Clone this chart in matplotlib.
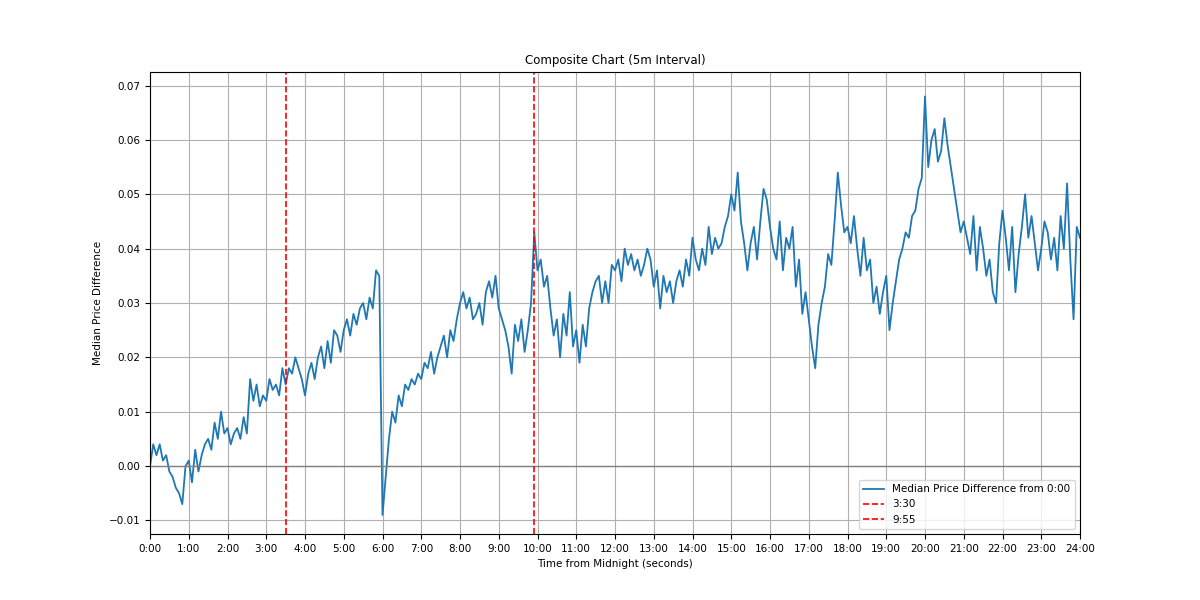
import matplotlib
matplotlib.use('Agg')
import matplotlib.pyplot as plt
import numpy as np

# median price difference (x 1e-3), 5 minute steps, one row per hour
h00 = [0, 4, 2, 4, 1, 2, -1, -2, -4, -5, -7, 0]
h01 = [1, -3, 3, -1, 2, 4, 5, 3, 8, 5, 10, 6]
h02 = [7, 4, 6, 7, 5, 9, 6, 16, 12, 15, 11, 13]
h03 = [12, 16, 14, 15, 13, 18, 15, 18, 17, 20, 18, 16]
h04 = [13, 17, 19, 16, 20, 22, 18, 23, 19, 25, 24, 21]
h05 = [25, 27, 24, 28, 26, 29, 30, 27, 31, 29, 36, 35]
h06 = [-9, -2, 5, 10, 8, 13, 11, 15, 14, 16, 15, 17]
h07 = [16, 19, 18, 21, 17, 20, 22, 24, 20, 25, 23, 27]
h08 = [30, 32, 29, 31, 27, 28, 30, 26, 32, 34, 31, 35]
h09 = [29, 27, 25, 22, 17, 26, 23, 27, 21, 25, 30, 43]
h10 = [36, 38, 33, 35, 29, 24, 27, 20, 28, 24, 32, 22]
h11 = [25, 19, 26, 22, 29, 32, 34, 35, 30, 34, 30, 37]
h12 = [36, 38, 34, 40, 37, 39, 36, 38, 35, 37, 40, 38]
h13 = [33, 36, 29, 35, 32, 34, 30, 34, 36, 33, 38, 35]
h14 = [42, 38, 36, 40, 37, 44, 39, 42, 40, 41, 44, 46]
h15 = [50, 47, 54, 45, 41, 36, 41, 44, 38, 45, 51, 49]
h16 = [44, 40, 38, 45, 36, 42, 40, 44, 33, 38, 28, 32]
h17 = [27, 22, 18, 26, 30, 33, 39, 37, 45, 54, 48, 43]
h18 = [44, 41, 46, 40, 35, 42, 36, 38, 30, 33, 28, 32]
h19 = [35, 25, 30, 34, 38, 40, 43, 42, 46, 47, 51, 53]
h20 = [68, 55, 60, 62, 56, 58, 64, 59, 55, 51, 47, 43]
h21 = [45, 42, 39, 46, 36, 44, 40, 35, 38, 32, 30, 41]
h22 = [47, 42, 36, 44, 32, 39, 44, 50, 42, 46, 41, 36]
h23 = [40, 45, 43, 38, 42, 36, 46, 40, 52, 38, 27, 44]
h24 = [42]

hours = [h00, h01, h02, h03, h04, h05, h06, h07, h08, h09, h10, h11,
         h12, h13, h14, h15, h16, h17, h18, h19, h20, h21, h22, h23, h24]
values = np.array([v for h in hours for v in h]) / 1000.0
seconds = np.arange(len(values)) * 300

tick_labels = ['%d:00' % i for i in range(25)]

plt.rcParams['font.size'] = 7.5

fig, ax = plt.subplots(figsize=(12, 6), dpi=100)
ax.plot(seconds, values, linewidth=1.3, label='Median Price Difference from 0:00')
ax.axhline(0, color='gray', linewidth=1)
ax.axvline(3.5 * 3600, color='red', linestyle='--', linewidth=1.2, label='3:30')
ax.axvline(9 * 3600 + 55 * 60, color='red', linestyle='--', linewidth=1.2, label='9:55')
ax.set_xticks(np.arange(25) * 3600)
ax.set_xticklabels(tick_labels)
ax.set_xlim(0, 86400)
ax.set_ylim(-0.0125, 0.0725)
ax.grid(True)
ax.set_title('Composite Chart (5m Interval)', fontsize=8.5)
ax.set_xlabel('Time from Midnight (seconds)')
ax.set_ylabel('Median Price Difference')
ax.legend(loc='lower right')
plt.savefig('out.png')
